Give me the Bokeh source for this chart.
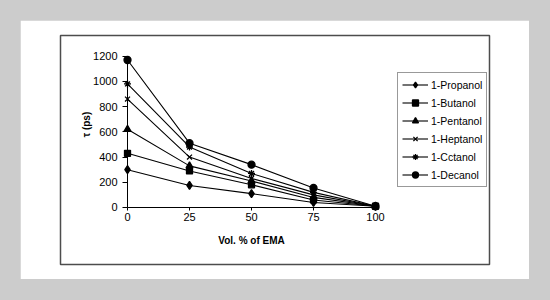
from bokeh.plotting import figure
from bokeh.models import Range1d, FixedTicker, Legend, LegendItem, Label
from bokeh.embed import file_html
from bokeh.resources import INLINE

# ---- data ----
vol_pct = [0, 25, 50, 75, 100]
propanol = [300, 175, 110, 40, 10]
butanol = [430, 290, 180, 60, 10]
pentanol = [620, 330, 210, 80, 10]
heptanol = [860, 400, 230, 100, 10]
octanol = [980, 480, 270, 120, 10]
decanol = [1170, 510, 340, 155, 10]
series_names = ["1-Propanol", "1-Butanol", "1-Pentanol", "1-Heptanol", "1-Cctanol", "1-Decanol"]
x_ticks = [0, 25, 50, 75, 100]
y_ticks = [0, 200, 400, 600, 800, 1000, 1200]

series = [propanol, butanol, pentanol, heptanol, octanol, decanol]
markers = [("diamond", 8), ("square", 6), ("triangle", 7), ("x", 7), ("asterisk", 7), ("circle", 7)]

FONT = "Liberation Sans"

p = figure(width=509, height=259, output_backend="svg", toolbar_location=None,
           x_range=Range1d(-27.02, 145.97), y_range=Range1d(-452.1, 1364.2),
           min_border_left=40, min_border_right=40, min_border_top=15, min_border_bottom=15)
p.margin = (20, 0, 0, 20)
p.background_fill_color = "white"
p.border_fill_color = "white"
p.outline_line_color = "#4d4d4d"
p.outline_line_width = 1.5
p.xgrid.visible = False
p.ygrid.visible = False

xa = p.xaxis[0]
xa.fixed_location = 0
xa.bounds = (0, 100)
xa.ticker = FixedTicker(ticks=x_ticks)
xa.minor_tick_line_color = None
xa.major_tick_in = 0
xa.major_tick_out = 3
xa.major_label_standoff = 3
xa.axis_line_color = "black"
xa.major_tick_line_color = "black"
xa.major_label_text_font = FONT
xa.major_label_text_font_size = "11px"
xa.major_label_text_color = "black"

ya = p.yaxis[0]
ya.fixed_location = 0
ya.bounds = (0, 1200)
ya.ticker = FixedTicker(ticks=y_ticks)
ya.minor_tick_line_color = None
ya.major_tick_in = 0
ya.major_tick_out = 5
ya.major_label_standoff = 5
ya.axis_line_color = "black"
ya.major_tick_line_color = "black"
ya.major_label_text_font = FONT
ya.major_label_text_font_size = "11px"
ya.major_label_text_color = "black"

items = []
for name, vals, (mk, sz) in zip(series_names, series, markers):
    lr = p.line(vol_pct, vals, line_color="black", line_width=1.1)
    sr = p.scatter(vol_pct, vals, marker=mk, size=sz, fill_color="black",
                   line_color="black", line_width=1.3)
    items.append(LegendItem(label=name, renderers=[lr, sr]))

legend = Legend(items=items, location=(337, 77))
legend.border_line_color = "#333333"
legend.border_line_width = 1
legend.background_fill_alpha = 1
legend.label_text_font = FONT
legend.label_text_font_size = "10.5px"
legend.label_text_color = "black"
legend.label_text_baseline = "middle"
legend.glyph_width = 26
legend.glyph_height = 15
legend.label_height = 15
legend.spacing = 3
legend.padding = 4
legend.margin = 0
legend.label_standoff = 3
p.add_layout(legend)

p.add_layout(Label(x=50, y=-262, text="Vol. % of EMA", text_font=FONT,
                   text_font_size="10px", text_font_style="bold",
                   text_align="center", text_baseline="middle", text_color="black"))
p.add_layout(Label(x=-16.5, y=658, text="τ (ps)", text_font=FONT,
                   text_font_size="10px", text_font_style="bold", angle=1.5708,
                   text_align="center", text_baseline="middle", text_color="black"))

html = file_html(p, INLINE)
idx = html.rfind("</head>")
style = "<style>html, body { background-color: #cccccc !important; }</style>\n"
if idx >= 0:
    html = html[:idx] + style + html[idx:]
open("out.html", "w").write(html)
